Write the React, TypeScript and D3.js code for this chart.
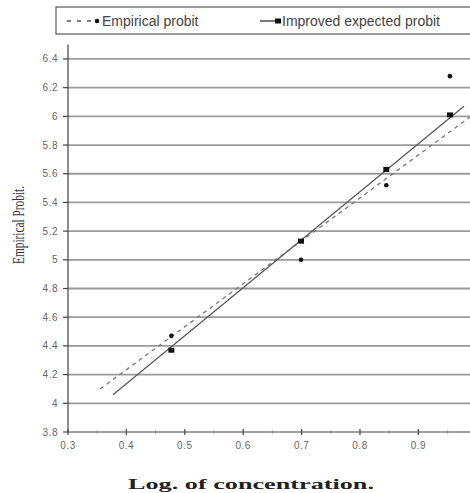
import React, { useEffect, useRef } from "react";
import * as d3 from "d3";

// log10 of concentrations 3, 5, 7, 9
const logConc = [0.477, 0.699, 0.845, 0.954];
const empiricalProbit = [4.47, 5.0, 5.52, 6.28];
const improvedProbit = [4.37, 5.13, 5.63, 6.01];
// fitted lines, end points
const empiricalFitX = [0.355, 1.0];
const empiricalFitY = [4.1, 6.03];
const improvedFitX = [0.377, 0.978];
const improvedFitY = [4.06, 6.07];
const yTicks = [3.8, 4, 4.2, 4.4, 4.6, 4.8, 5, 5.2, 5.4, 5.6, 5.8, 6, 6.2, 6.4];
const xTicks = [0.3, 0.4, 0.5, 0.6, 0.7, 0.8, 0.9];
const xMinorTicks = [0.35, 0.45, 0.55, 0.65, 0.75, 0.85, 0.95];

const App = () => {
  const svgRef = useRef<SVGSVGElement>(null);
  useEffect(() => {
    const svg = d3.select(svgRef.current);
    svg.selectAll("*").remove();
    const width = 470;
    const height = 493;

    const x = d3.scaleLinear().domain([0.3, 1.0]).range([68, 476.8]);
    const y = d3.scaleLinear().domain([3.8, 6.5]).range([432, 44.6]);

    svg.append("rect").attr("width", width).attr("height", height).attr("fill", "#fff");

    // horizontal grid
    svg.append("g")
      .selectAll("line")
      .data(yTicks.filter((t) => t > 3.8))
      .join("line")
      .attr("x1", x(0.3))
      .attr("x2", width)
      .attr("y1", (d) => y(d))
      .attr("y2", (d) => y(d))
      .attr("stroke", "#9a9a9a")
      .attr("stroke-width", 1.8);

    // axes
    const axis = svg.append("g").attr("stroke", "#444").attr("stroke-width", 1.2);
    axis.append("line").attr("x1", x(0.3)).attr("x2", x(0.3)).attr("y1", y(6.5)).attr("y2", y(3.8));
    axis.append("line").attr("x1", x(0.3)).attr("x2", width).attr("y1", y(3.8)).attr("y2", y(3.8));
    axis.selectAll(".yt").data(yTicks).join("line")
      .attr("x1", x(0.3) - 5).attr("x2", x(0.3))
      .attr("y1", (d) => y(d)).attr("y2", (d) => y(d));
    axis.selectAll(".xt").data(xTicks).join("line")
      .attr("x1", (d) => x(d)).attr("x2", (d) => x(d))
      .attr("y1", y(3.8) - 3).attr("y2", y(3.8) + 3);
    axis.selectAll(".xm").data(xMinorTicks).join("line")
      .attr("x1", (d) => x(d)).attr("x2", (d) => x(d))
      .attr("y1", y(3.8) - 1.5).attr("y2", y(3.8) + 1.5)
      .attr("stroke", "#888");

    svg.append("g")
      .selectAll("text")
      .data(yTicks)
      .join("text")
      .attr("x", x(0.3) - 10)
      .attr("y", (d) => y(d))
      .attr("dy", "0.35em")
      .attr("text-anchor", "end")
      .attr("font-family", "Liberation Sans, Arial, sans-serif")
      .attr("font-size", 10)
      .attr("letter-spacing", 0.5)
      .attr("fill", "#666")
      .text((d) => d3.format("~g")(d));

    svg.append("g")
      .selectAll("text")
      .data(xTicks)
      .join("text")
      .attr("x", (d) => x(d))
      .attr("y", 449)
      .attr("text-anchor", "middle")
      .attr("font-family", "Liberation Sans, Arial, sans-serif")
      .attr("font-size", 10)
      .attr("letter-spacing", 0.5)
      .attr("fill", "#666")
      .text((d) => d3.format(".1f")(d));

    // fitted lines
    const line = d3.line<[number, number]>().x((d) => x(d[0])).y((d) => y(d[1]));
    svg.append("path")
      .attr("d", line(d3.zip(empiricalFitX, empiricalFitY) as [number, number][]))
      .attr("fill", "none")
      .attr("stroke", "#777")
      .attr("stroke-width", 1.3)
      .attr("stroke-dasharray", "4,4");
    svg.append("path")
      .attr("d", line(d3.zip(improvedFitX, improvedFitY) as [number, number][]))
      .attr("fill", "none")
      .attr("stroke", "#555")
      .attr("stroke-width", 1.2);

    // points
    svg.append("g")
      .selectAll("circle")
      .data(logConc)
      .join("circle")
      .attr("cx", (d) => x(d))
      .attr("cy", (d, i) => y(empiricalProbit[i]))
      .attr("r", 2.3)
      .attr("fill", "#111");
    svg.append("g")
      .selectAll("rect")
      .data(logConc)
      .join("rect")
      .attr("x", (d) => x(d) - 3)
      .attr("y", (d, i) => y(improvedProbit[i]) - 2.5)
      .attr("width", 6)
      .attr("height", 5)
      .attr("fill", "#111");

    // legend
    const lg = svg.append("g");
    lg.append("rect")
      .attr("x", 56).attr("y", 7).attr("width", 430).attr("height", 27)
      .attr("fill", "#fff").attr("stroke", "#666").attr("stroke-width", 1.3);
    lg.append("line").attr("x1", 67).attr("x2", 97).attr("y1", 21).attr("y2", 21)
      .attr("stroke", "#555").attr("stroke-width", 1.3).attr("stroke-dasharray", "4,6");
    lg.append("circle").attr("cx", 97).attr("cy", 21).attr("r", 2.3).attr("fill", "#111");
    lg.append("text").attr("x", 102).attr("y", 26)
      .attr("font-family", "Liberation Sans, Arial, sans-serif").attr("font-size", 14).attr("fill", "#444")
      .text("Empirical probit");
    lg.append("line").attr("x1", 260).attr("x2", 280).attr("y1", 21).attr("y2", 21)
      .attr("stroke", "#333").attr("stroke-width", 1.3);
    lg.append("rect").attr("x", 275).attr("y", 18.5).attr("width", 6).attr("height", 5).attr("fill", "#111");
    lg.append("text").attr("x", 282).attr("y", 26)
      .attr("font-family", "Liberation Sans, Arial, sans-serif").attr("font-size", 14).attr("fill", "#444")
      .text("Improved expected probit");

    // axis titles
    svg.append("text")
      .attr("transform", "translate(24,225) rotate(-90)")
      .attr("text-anchor", "middle")
      .attr("font-family", "Liberation Serif, Times New Roman, serif")
      .attr("font-size", 16)
      .attr("fill", "#333")
      .attr("textLength", 78)
      .attr("lengthAdjust", "spacingAndGlyphs")
      .text("Empirical Probit.");
    svg.append("text")
      .attr("x", 251)
      .attr("y", 489)
      .attr("text-anchor", "middle")
      .attr("font-family", "Liberation Serif, Times New Roman, serif")
      .attr("font-size", 15)
      .attr("font-weight", "bold")
      .attr("fill", "#222")
      .attr("textLength", 246)
      .attr("lengthAdjust", "spacingAndGlyphs")
      .text("Log. of concentration.");
  }, []);
  return (
    <svg
      ref={svgRef}
      width={470}
      height={493}
      style={{ position: "absolute", left: 0, top: 0, display: "block" }}
    ></svg>
  );
};

export default App;
